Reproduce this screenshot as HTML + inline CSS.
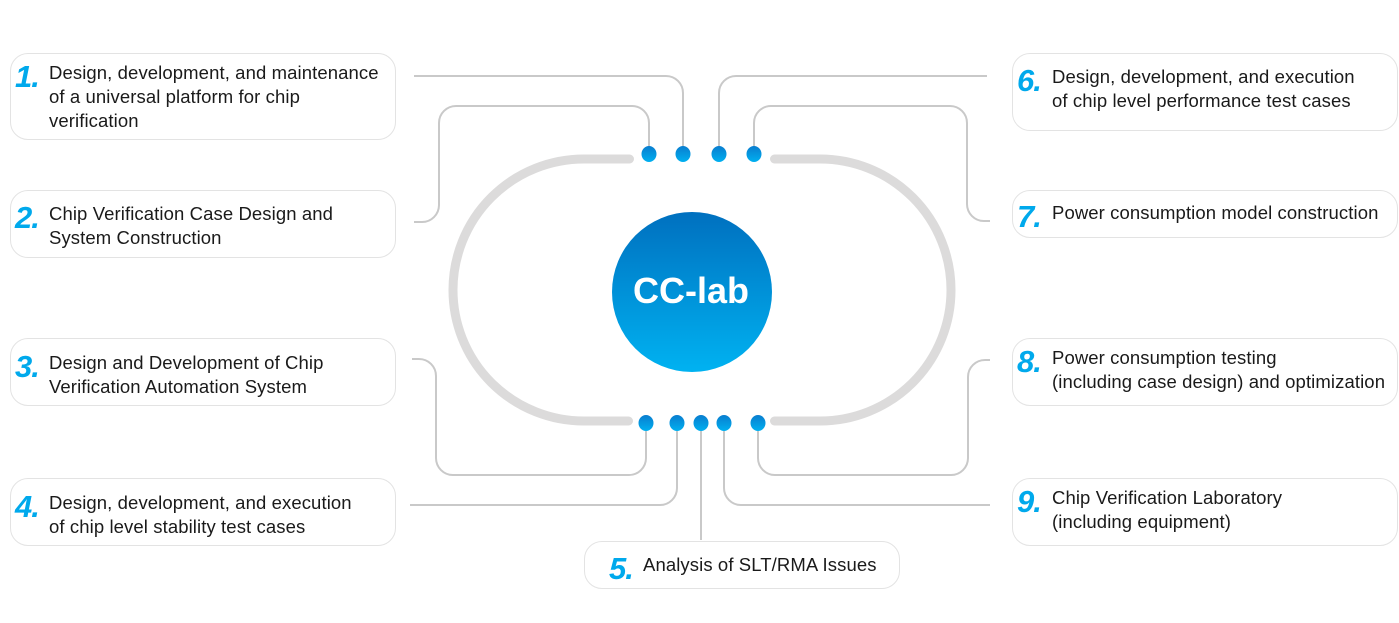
<!DOCTYPE html>
<html>
<head>
<meta charset="utf-8">
<style>
  html,body{margin:0;padding:0;background:#fff;}
  body{width:1399px;height:623px;position:relative;overflow:hidden;font-family:"Liberation Sans","Noto Sans CJK SC",sans-serif;}
  .box{position:absolute;border:1px solid #e3e3e3;border-radius:18px;box-sizing:border-box;background:#fff;}
  .num{position:absolute;font-family:"Liberation Sans",sans-serif;font-weight:bold;font-style:italic;font-size:31px;line-height:31px;color:#00a9ec;letter-spacing:-1px;white-space:nowrap;}
  .txt{position:absolute;font-size:18.5px;line-height:24px;color:#1a1a1a;white-space:nowrap;letter-spacing:0.1px;}
  svg{position:absolute;left:0;top:0;}
</style>
</head>
<body>
<svg width="1399" height="623" viewBox="0 0 1399 623">
  <defs>
    <linearGradient id="cg" x1="0" y1="0" x2="0" y2="1">
      <stop offset="0" stop-color="#0070bf"/>
      <stop offset="1" stop-color="#00b2f1"/>
    </linearGradient>
    <linearGradient id="dg" x1="0" y1="0" x2="0" y2="1">
      <stop offset="0" stop-color="#0a7dcf"/>
      <stop offset="1" stop-color="#00b0f0"/>
    </linearGradient>
  </defs>
  <!-- stadium -->
  <g fill="none" stroke="#dcdbdb" stroke-width="9" stroke-linecap="round">
    <path d="M629.5 159 H584 A131 131 0 0 0 584 421 H628.5"/>
    <path d="M774.5 159 H820 A131 131 0 0 1 820 421 H774.5"/>
  </g>
  <!-- connectors -->
  <g fill="none" stroke="#c9c9c9" stroke-width="2">
    <path d="M414 76 H666 A17 17 0 0 1 683 93 V147"/>
    <path d="M414 222 H422 A17 17 0 0 0 439 205 V123 A17 17 0 0 1 456 106 H632 A17 17 0 0 1 649 123 V147"/>
    <path d="M987 76 H736 A17 17 0 0 0 719 93 V147"/>
    <path d="M990 221 H984 A17 17 0 0 1 967 204 V123 A17 17 0 0 0 950 106 H771 A17 17 0 0 0 754 123 V147"/>
    <path d="M412 359 H419 A17 17 0 0 1 436 376 V458 A17 17 0 0 0 453 475 H629 A17 17 0 0 0 646 458 V431"/>
    <path d="M410 505 H660 A17 17 0 0 0 677 488 V431"/>
    <path d="M701 431 V540"/>
    <path d="M990 505 H741 A17 17 0 0 1 724 488 V431"/>
    <path d="M990 360 H985 A17 17 0 0 0 968 377 V458 A17 17 0 0 1 951 475 H775 A17 17 0 0 1 758 458 V431"/>
  </g>
  <!-- dots -->
  <g fill="url(#dg)">
    <ellipse cx="649" cy="154" rx="7.5" ry="8"/>
    <ellipse cx="683" cy="154" rx="7.5" ry="8"/>
    <ellipse cx="719" cy="154" rx="7.5" ry="8"/>
    <ellipse cx="754" cy="154" rx="7.5" ry="8"/>
    <ellipse cx="646" cy="423" rx="7.5" ry="8"/>
    <ellipse cx="677" cy="423" rx="7.5" ry="8"/>
    <ellipse cx="701" cy="423" rx="7.5" ry="8"/>
    <ellipse cx="724" cy="423" rx="7.5" ry="8"/>
    <ellipse cx="758" cy="423" rx="7.5" ry="8"/>
  </g>
  <!-- center circle -->
  <circle cx="692" cy="292" r="80" fill="url(#cg)"/>
  <text x="691" y="303" text-anchor="middle" font-family="Liberation Sans, sans-serif" font-weight="bold" font-size="36" fill="#ffffff">CC-lab</text>
</svg>

<div class="box" style="left:10px;top:53px;width:386px;height:87px;"></div>
<div class="num" style="left:15px;top:61px;">1.</div>
<div class="txt" style="left:49px;top:61px;">Design, development, and maintenance<br>of a universal platform for chip<br>verification</div>

<div class="box" style="left:10px;top:190px;width:386px;height:68px;"></div>
<div class="num" style="left:15px;top:202px;">2.</div>
<div class="txt" style="left:49px;top:202px;">Chip Verification Case Design and<br>System Construction</div>

<div class="box" style="left:10px;top:338px;width:386px;height:68px;"></div>
<div class="num" style="left:15px;top:351px;">3.</div>
<div class="txt" style="left:49px;top:351px;">Design and Development of Chip<br>Verification Automation System</div>

<div class="box" style="left:10px;top:478px;width:386px;height:68px;"></div>
<div class="num" style="left:15px;top:491px;">4.</div>
<div class="txt" style="left:49px;top:491px;">Design, development, and execution<br>of chip level stability test cases</div>

<div class="box" style="left:584px;top:541px;width:316px;height:48px;"></div>
<div class="num" style="left:609px;top:553px;">5.</div>
<div class="txt" style="left:643px;top:553px;">Analysis of SLT/RMA Issues</div>

<div class="box" style="left:1012px;top:53px;width:386px;height:78px;"></div>
<div class="num" style="left:1017px;top:65px;">6.</div>
<div class="txt" style="left:1052px;top:65px;">Design, development, and execution<br>of chip level performance test cases</div>

<div class="box" style="left:1012px;top:190px;width:386px;height:48px;"></div>
<div class="num" style="left:1017px;top:201px;">7.</div>
<div class="txt" style="left:1052px;top:201px;">Power consumption model construction</div>

<div class="box" style="left:1012px;top:338px;width:386px;height:68px;"></div>
<div class="num" style="left:1017px;top:346px;">8.</div>
<div class="txt" style="left:1052px;top:346px;">Power consumption testing<br>(including case design) and optimization</div>

<div class="box" style="left:1012px;top:478px;width:386px;height:68px;"></div>
<div class="num" style="left:1017px;top:486px;">9.</div>
<div class="txt" style="left:1052px;top:486px;">Chip Verification Laboratory<br>(including equipment)</div>
</body>
</html>
